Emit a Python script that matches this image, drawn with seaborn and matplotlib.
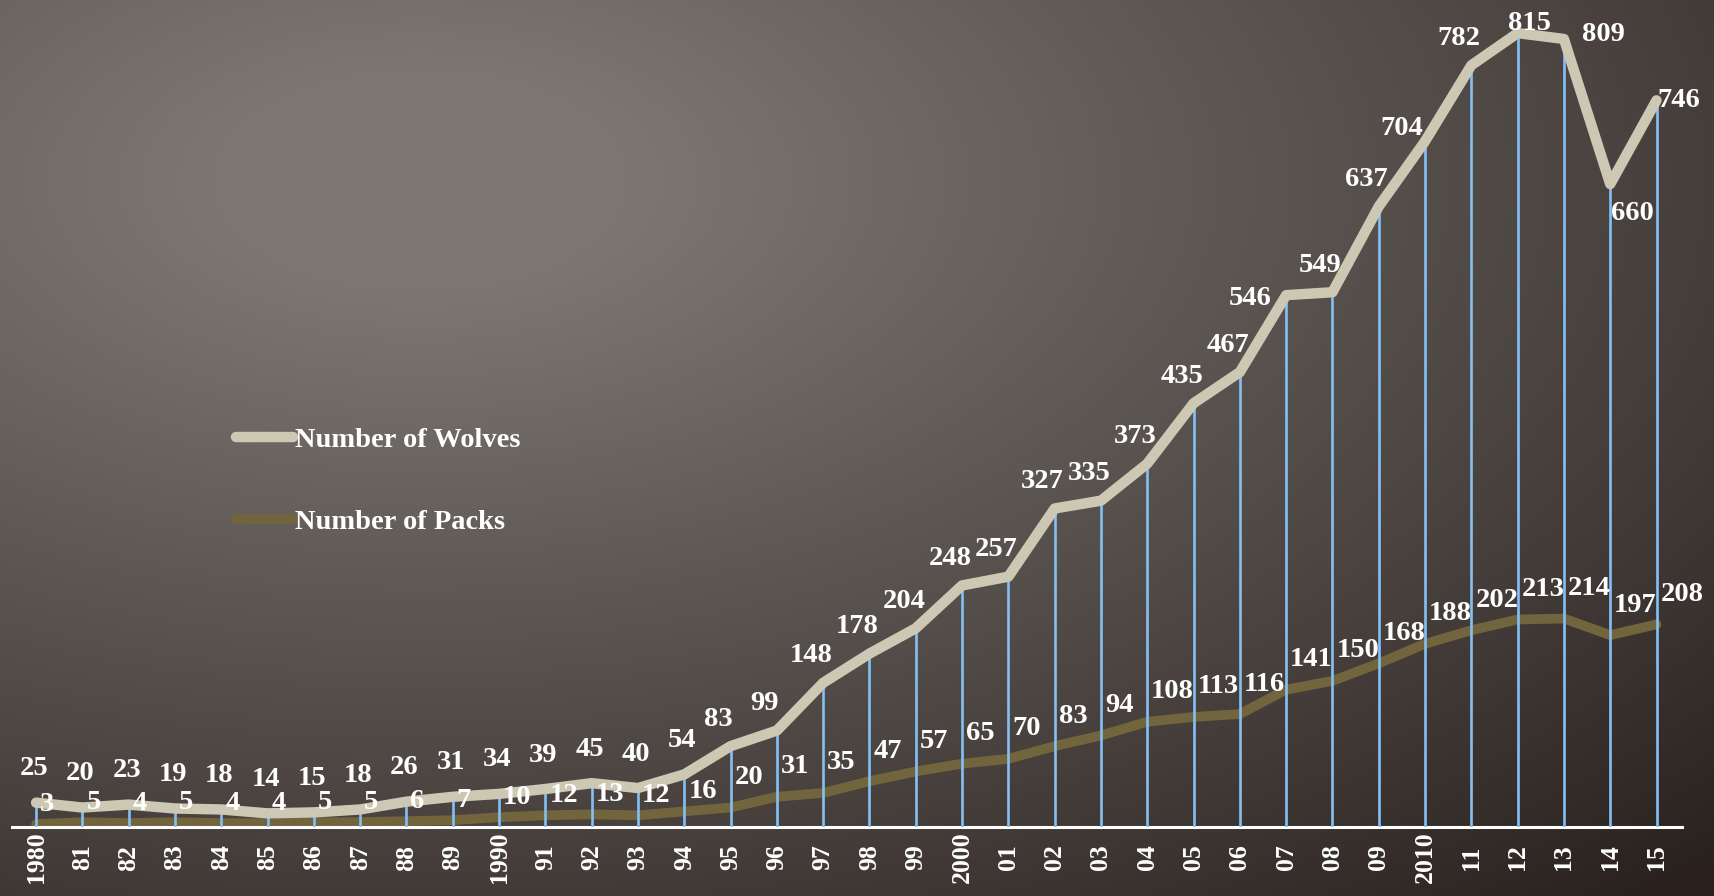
import numpy as np
import pandas as pd
import matplotlib
matplotlib.use("Agg")
import matplotlib.pyplot as plt
import seaborn as sns
from matplotlib.font_manager import FontProperties

# ---- data -------------------------------------------------------------
years = list(range(1980, 2016))
tick_labels = ["1980", "81", "82", "83", "84", "85", "86", "87", "88", "89",
               "1990", "91", "92", "93", "94", "95", "96", "97", "98", "99",
               "2000", "01", "02", "03", "04", "05", "06", "07", "08", "09",
               "2010", "11", "12", "13", "14", "15"]
wolves = [25, 20, 23, 19, 18, 14, 15, 18, 26, 31,
          34, 39, 45, 40, 54, 83, 99, 148, 178, 204,
          248, 257, 327, 335, 373, 435, 467, 546, 549, 637,
          704, 782, 815, 809, 660, 746]
packs = [3, 5, 4, 5, 4, 4, 5, 5, 6, 7,
         10, 12, 13, 12, 16, 20, 31, 35, 47, 57,
         65, 70, 83, 94, 108, 113, 116, 141, 150, 168,
         188, 202, 213, 214, 197, 208]

# ---- style ------------------------------------------------------------
sns.set_theme(style="white")
plt.rcParams["font.family"] = ["Liberation Serif", "DejaVu Serif"]

WOLF_C = "#cdc8b4"
PACK_C = "#72643c"
DROP_C = "#84c0f6"
W, H = 1714, 896

fig = plt.figure(figsize=(W / 100, H / 100), dpi=100)

# radial background shading
bg = fig.add_axes([0, 0, 1, 1], zorder=0)
yy, xx = np.mgrid[0:H, 0:W]
r = np.sqrt(((xx - 420) / 1700.0) ** 2 + ((yy - 180) / 900.0) ** 2)
t = np.clip((r - 0.12) / 0.95, 0, 1)
c0 = np.array([124, 119, 115]) / 255.0
c1 = np.array([42, 34, 30]) / 255.0
img = c0 + (c1 - c0) * t[..., None]
bg.imshow(img, aspect="auto", interpolation="bilinear")
bg.set_axis_off()

ax = fig.add_axes([12 / W, (H - 827) / H, 1670 / W, 827 / H], zorder=1)
ax.set_facecolor("none")

df = pd.DataFrame({"idx": np.arange(len(years)),
                   "Number of Wolves": wolves,
                   "Number of Packs": packs})

sns.lineplot(data=df, x="idx", y="Number of Packs", ax=ax, color=PACK_C,
             linewidth=7.0, solid_capstyle="round", solid_joinstyle="round",
             zorder=2, legend=False)
ax.vlines(df["idx"], 0, df["Number of Wolves"], color=DROP_C, linewidth=1.9,
          zorder=3)
sns.lineplot(data=df, x="idx", y="Number of Wolves", ax=ax, color=WOLF_C,
             linewidth=7.5, solid_capstyle="round", solid_joinstyle="round",
             zorder=4, legend=False)

ax.set_xlim(-0.52, 35.55)
ax.set_ylim(0, 849)

# axes cosmetics
for side in ["top", "right", "left"]:
    ax.spines[side].set_visible(False)
ax.spines["bottom"].set_color("white")
ax.spines["bottom"].set_linewidth(2.2)
ax.spines["bottom"].set_zorder(2.5)
ax.set_yticks([])
ax.set_xticks(df["idx"])
ax.set_xticklabels(tick_labels, rotation=90, va="center", ha="center",
                   fontsize=18.5, fontweight="bold", color="white")
ax.tick_params(axis="x", length=0, pad=22)
ax.set_xlabel("")
ax.set_ylabel("")

# value labels (offsets in pixels)
px = 0.72
wolf_offsets = {2007: (-36, -3), 2010: (-23, 13), 2012: (12, 10),
                2013: (39, 4), 2014: (22, -29), 2015: (22, 0)}
lab_kw = dict(textcoords="offset points", fontsize=20.5, fontweight="bold",
              color="white", zorder=6)
for i, (yr, v) in enumerate(zip(years, wolves)):
    default = (-2, 34) if i < 15 else (-12, 27)
    dx, dy = wolf_offsets.get(yr, default)
    ax.annotate(str(v), (i, v), xytext=(dx * px, dy * px),
                ha="center", va="center", **lab_kw)
for i, v in enumerate(packs):
    dy = 20 if i < 15 else 30
    ax.annotate(str(v), (i, v), xytext=(4 * px, dy * px),
                ha="left", va="center", **lab_kw)

# legend
handles = [ax.lines[-1], ax.lines[0]]
leg = ax.legend(handles, ["Number of Wolves", "Number of Packs"],
                loc="center left", bbox_to_anchor=(236 / W, (H - 481) / H),
                bbox_transform=fig.transFigure, frameon=False,
                handlelength=2.0, handletextpad=0.08, labelspacing=2.0,
                borderpad=0, borderaxespad=0,
                prop=FontProperties(family="Liberation Serif", weight="bold",
                                    size=20.5))
for txt in leg.get_texts():
    txt.set_color("white")

fig.savefig("out.png", dpi=100)
